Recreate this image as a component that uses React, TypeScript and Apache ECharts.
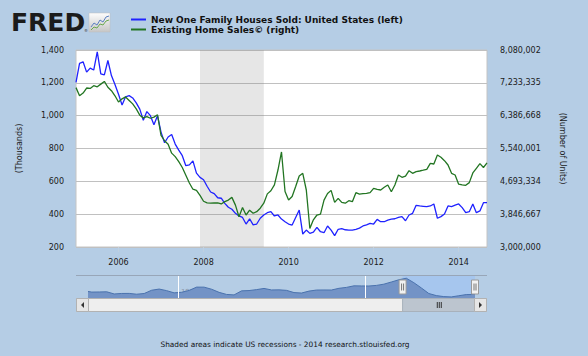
import React, { useEffect, useRef } from "react";
import * as echarts from "echarts";

const FONT = '"DejaVu Sans", Verdana, sans-serif';

// ---- Data -------------------------------------------------------------
const START_MONTH = "2005-01"; // monthly from Jan 2005 to Sep 2014
const NEW_NAME = "New One Family Houses Sold: United States (left)";
const EXIST_NAME = "Existing Home Sales\u00a9 (right)";

// New One Family Houses Sold (thousands)
const newHomeSales = [
  1203, 1319, 1328, 1265, 1290, 1278, 1389, 1255, 1248, 1336, 1244, 1190,
  1130, 1065, 1115, 1122, 1108, 1078, 1040, 972, 1025, 1000, 945, 1000,
  900, 835, 870, 885, 827, 790, 756, 695, 700, 725, 650, 624,
  610, 570, 535, 525, 500, 497, 466, 442, 430, 405, 389, 380,
  340, 372, 335, 340, 375, 395, 409, 415, 389, 395, 370, 354,
  340, 334, 380, 425, 279, 303, 283, 290, 320, 293, 287, 328,
  303, 269, 308, 312, 305, 303, 303, 308, 315, 328, 335, 344,
  340, 368, 354, 354, 364, 370, 372, 380, 385, 360, 395, 405,
  454, 450, 448, 446, 450, 462, 375, 385, 401, 450, 446, 455,
  462, 440, 409, 415, 462, 409, 420, 470, 470,
];

// Existing Home Sales (number of units)
const existingHomeSales = [
  7110000, 6900000, 6970000, 7100000, 7090000, 7160000, 7130000, 7200000, 7270000, 7120000, 7030000, 6900000,
  6740000, 6820000, 6870000, 6780000, 6690000, 6560000, 6400000, 6330000, 6360000, 6320000, 6350000, 6410000,
  5880000, 5740000, 5650000, 5420000, 5330000, 5200000, 5050000, 4850000, 4650000, 4490000, 4460000, 4330000,
  4180000, 4140000, 4130000, 4135000, 4140000, 4110000, 4170000, 4210000, 4280000, 4080000, 3780000, 4020000,
  3825000, 3950000, 3870000, 3910000, 4000000, 4130000, 4370000, 4450000, 4600000, 4985000, 5450000, 4430000,
  4210000, 4300000, 4560000, 4830000, 4900000, 4470000, 3480000, 3700000, 3825000, 3850000, 4210000, 4380000,
  4460000, 4150000, 4255000, 4150000, 4130000, 4193000, 4168000, 4400000, 4366000, 4375000, 4383000, 4400000,
  4513000, 4487000, 4470000, 4539000, 4598000, 4426000, 4598000, 4856000, 4797000, 4830000, 4967000, 4900000,
  4942000, 4960000, 4980000, 5003000, 5158000, 5140000, 5372000, 5313000, 5226000, 5114000, 4900000, 4856000,
  4620000, 4600000, 4590000, 4660000, 4910000, 5030000, 5150000, 5050000, 5170000,
];

const recession = ["2007-12", "2009-06"];
const xTickYears = [2006, 2008, 2010, 2012, 2014];

// Navigator (long history of new houses sold, thousands)
const navFirst = { month: "1963-01", value: 591 };
const navAnnualStartYear = 1963; // annual levels plotted at mid-year
const navAnnual = [
  560, 565, 575, 461, 487, 490, 448, 485, 656, 718,
  634, 519, 549, 646, 819, 817, 709, 545, 436, 412,
  623, 639, 688, 750, 671, 676, 650, 534, 509, 610,
  666, 670, 667, 757, 804, 886, 880, 877, 908, 973,
  1086, 1203, 1283, 1051, 776, 485, 375, 323, 306, 368, 429,
];
const navLast = [
  { month: "2014-03", value: 430 },
  { month: "2014-09", value: 467 },
];
const navYearLabels = [1975, 2000];

// ---- helpers -----------------------------------------------------------
const monthToX = (m: string) => {
  const [y, mo] = m.split("-").map(Number);
  return y + (mo - 1) / 12;
};
const fmt = (v: number) => Math.round(v).toLocaleString("en-US");

export default function App() {
  const ref = useRef<HTMLDivElement>(null);

  useEffect(() => {
    if (!ref.current) return;
    const chart = echarts.init(ref.current, null, { renderer: "svg" });
    const x0 = monthToX(START_MONTH);
    const xs = newHomeSales.map((_, i) => x0 + i / 12);
    const xEnd = xs[xs.length - 1];

    const navData: number[][] = [[monthToX(navFirst.month), navFirst.value]];
    navAnnual.forEach((v, i) => navData.push([navAnnualStartYear + i + 0.5, v]));
    navLast.forEach((p) => navData.push([monthToX(p.month), p.value]));

    const labelStyle = { fontFamily: FONT, fontSize: 8, color: "#1a1a1a" };

    chart.setOption({
      animation: false,
      backgroundColor: "#b5cde5",
      legend: {
        data: [NEW_NAME, EXIST_NAME],
        orient: "vertical",
        left: 131,
        top: 15,
        padding: 0,
        itemWidth: 15,
        itemHeight: 2,
        itemGap: 1,
        icon: "rect",
        selectedMode: false,
        textStyle: { fontFamily: FONT, fontSize: 9, fontWeight: "bold", color: "#111" },
      },
      grid: [
        {
          left: 76, top: 50, width: 411, height: 197,
          show: true, backgroundColor: "#ffffff", borderColor: "#c4c4c4", borderWidth: 1,
        },
        { left: 88, top: 276, width: 387, height: 22, show: false },
      ],
      xAxis: [
        {
          gridIndex: 0, type: "value", min: x0, max: xEnd,
          axisLine: { show: false },
          axisTick: { show: true, customValues: xTickYears, length: 5, lineStyle: { color: "#c0d0e0" } },
          axisLabel: { customValues: xTickYears, formatter: (v: number) => String(Math.round(v)), margin: 11, ...labelStyle },
          splitLine: { show: false },
        },
        {
          gridIndex: 1, type: "value", min: monthToX(navFirst.month), max: xEnd,
          axisLine: { show: false },
          axisTick: { show: false },
          axisLabel: {
            customValues: navYearLabels, inside: true, align: "left", margin: 3,
            padding: [0, 0, 0, 3], formatter: (v: number) => String(Math.round(v)),
            fontFamily: FONT, fontSize: 7, color: "#8a96a6",
          },
          splitLine: { show: false },
        },
      ],
      yAxis: [
        {
          gridIndex: 0, type: "value", position: "left", min: 200, max: 1400, interval: 200,
          name: "(Thousands)", nameLocation: "middle", nameGap: 53, nameRotate: 90,
          nameTextStyle: { fontFamily: FONT, fontSize: 8, color: "#1a1a1a" },
          axisLine: { show: false }, axisTick: { show: false },
          axisLabel: { formatter: fmt, margin: 12, ...labelStyle },
          splitLine: { show: true, lineStyle: { color: "#c0c0c0", width: 1 } },
        },
        {
          gridIndex: 0, type: "value", position: "right", min: 3000000, max: 8080002, interval: 846667,
          name: "(Number of Units)", nameLocation: "middle", nameGap: 71, nameRotate: -90,
          nameTextStyle: { fontFamily: FONT, fontSize: 8, color: "#1a1a1a" },
          axisLine: { show: false }, axisTick: { show: false },
          axisLabel: { formatter: fmt, margin: 13, ...labelStyle },
          splitLine: { show: false },
        },
        { gridIndex: 1, type: "value", min: 250, max: 1400, show: false, splitLine: { show: false } },
      ],
      series: [
        {
          type: "line", name: "recessions", xAxisIndex: 0, yAxisIndex: 0, data: [], z: 1,
          markArea: {
            silent: true,
            itemStyle: { color: "rgba(120,120,120,0.19)" },
            data: [[{ xAxis: monthToX(recession[0]) }, { xAxis: monthToX(recession[1]) }]],
          },
        },
        {
          type: "line", name: NEW_NAME, xAxisIndex: 0, yAxisIndex: 0, z: 3,
          data: newHomeSales.map((v, i) => [xs[i], v]),
          showSymbol: false, symbol: "none",
          lineStyle: { color: "#1f22ff", width: 1.3 }, itemStyle: { color: "#1f22ff" },
        },
        {
          type: "line", name: EXIST_NAME, xAxisIndex: 0, yAxisIndex: 1, z: 3,
          data: existingHomeSales.map((v, i) => [xs[i], v]),
          showSymbol: false, symbol: "none",
          lineStyle: { color: "#227522", width: 1.3 }, itemStyle: { color: "#227522" },
        },
        {
          type: "line", name: "window", xAxisIndex: 1, yAxisIndex: 2, data: [], z: 1,
          markArea: {
            silent: true,
            itemStyle: { color: "#a6c6ee" },
            data: [[{ xAxis: x0 }, { xAxis: xEnd }]],
          },
        },
        {
          type: "line", name: "navigator", xAxisIndex: 1, yAxisIndex: 2, z: 3,
          data: navData, showSymbol: false, symbol: "none",
          lineStyle: { color: "#4a72ad", width: 1 },
          areaStyle: { color: "#7393c6", opacity: 1 },
          markLine: {
            silent: true, symbol: "none", label: { show: false },
            lineStyle: { color: "#ffffff", width: 1, type: "solid" },
            data: navYearLabels.map((y) => ({ xAxis: y })),
          },
        },
      ],
    });

    const a = chart.convertToPixel({ xAxisIndex: 1 }, x0) as number;
    const b = chart.convertToPixel({ xAxisIndex: 1 }, xEnd) as number;
    const mid = (a + b) / 2;
    const g: any[] = [];
    const Z = 100;
    // logo
    g.push({ type: "text", z: Z, x: 11, y: 22, style: { text: "FRED", fill: "#1b1b1b", font: `bold 25px ${FONT}`, verticalAlign: "middle", align: "left" } });
    g.push({ type: "text", z: Z, x: 84, y: 30, style: { text: "\u00ae", fill: "#333", font: `4px ${FONT}`, verticalAlign: "middle" } });
    g.push({
      type: "rect", z: Z, shape: { x: 89, y: 13, width: 21, height: 19 },
      style: {
        fill: new echarts.graphic.LinearGradient(0, 0, 0, 1, [
          { offset: 0, color: "#fdfdfd" }, { offset: 1, color: "#c6c6c6" },
        ]),
        stroke: "#bdbdbd", lineWidth: 0.5,
      },
    });
    g.push({ type: "polyline", z: Z, shape: { points: [[91, 27], [94, 23], [97, 25], [100, 20], [103, 22], [106, 17], [109, 16]] }, style: { stroke: "#5b7fc0", lineWidth: 1, fill: null } });
    g.push({ type: "polyline", z: Z, shape: { points: [[91, 30], [94, 27], [97, 28], [100, 24], [103, 25], [106, 21], [109, 20]] }, style: { stroke: "#6aa84f", lineWidth: 1, fill: null } });
    // footer
    g.push({ type: "text", z: Z, x: 285, y: 344.5, style: { text: "Shaded areas indicate US recessions - 2014 research.stlouisfed.org", fill: "#111", font: `7.4px ${FONT}`, align: "center", verticalAlign: "middle" } });
    // navigator outline
    g.push({ type: "line", z: Z, shape: { x1: 76, y1: 275.5, x2: 487, y2: 275.5 }, style: { stroke: "#98a6b8", lineWidth: 1 } });
    // scrollbar
    g.push({ type: "rect", z: Z, shape: { x: 76.5, y: 298.5, width: 410, height: 13 }, style: { fill: "#eeeeee", stroke: "#b2b2b2", lineWidth: 1 } });
    g.push({ type: "rect", z: Z, shape: { x: a, y: 298.5, width: b - a, height: 13 }, style: { fill: "#bcc5cf", stroke: "#a8b1bb", lineWidth: 1 } });
    [-2, 0, 2].forEach((d) => g.push({ type: "line", z: Z, shape: { x1: mid + d + 0.5, y1: 302, x2: mid + d + 0.5, y2: 308 }, style: { stroke: "#333", lineWidth: 1 } }));
    g.push({ type: "rect", z: Z, shape: { x: 76.5, y: 298.5, width: 12, height: 13 }, style: { fill: "#e6e6e6", stroke: "#b2b2b2", lineWidth: 1 } });
    g.push({ type: "polygon", z: Z, shape: { points: [[84, 302], [84, 308], [81, 305]] }, style: { fill: "#333" } });
    g.push({ type: "rect", z: Z, shape: { x: 474.5, y: 298.5, width: 12, height: 13 }, style: { fill: "#e6e6e6", stroke: "#b2b2b2", lineWidth: 1 } });
    g.push({ type: "polygon", z: Z, shape: { points: [[479, 302], [479, 308], [482, 305]] }, style: { fill: "#333" } });
    // handles
    [a, b].forEach((h) => {
      g.push({ type: "rect", z: Z, shape: { x: h - 3.5, y: 280, width: 7, height: 14 }, style: { fill: "#f2f2f2", stroke: "#9a9a9a", lineWidth: 1 } });
      [-1, 1].forEach((d) => g.push({ type: "line", z: Z, shape: { x1: h + d, y1: 283.5, x2: h + d, y2: 290.5 }, style: { stroke: "#777", lineWidth: 1 } }));
    });
    chart.setOption({ graphic: g });

    return () => chart.dispose();
  }, []);

  return (
    <div
      ref={ref}
      style={{ position: "absolute", left: 0, top: 0, width: 588, height: 356 }}
    />
  );
}
